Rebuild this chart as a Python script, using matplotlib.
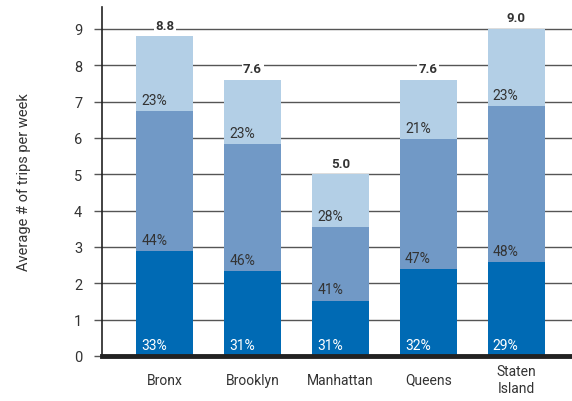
import matplotlib
matplotlib.use("Agg")
import matplotlib.pyplot as plt
import numpy as np

plt.rcParams['font.family'] = ['Roboto', 'DejaVu Sans']

boroughs = ["Bronx", "Brooklyn", "Manhattan", "Queens", "Staten\nIsland"]
totals = [8.8, 7.6, 5.0, 7.6, 9.0]
# segment heights (bottom, middle, top) in trips per week
seg_bottom = [2.88, 2.33, 1.52, 2.38, 2.58]
seg_middle = [3.85, 3.49, 2.03, 3.58, 4.29]
seg_top = [2.07, 1.78, 1.45, 1.64, 2.13]
pct_bottom = ["33%", "31%", "31%", "32%", "29%"]
pct_middle = ["44%", "46%", "41%", "47%", "48%"]
pct_top = ["23%", "23%", "28%", "21%", "23%"]

colors = ["#006ab4", "#7199c6", "#b3cfe6"]
txt = "#333333"

fig = plt.figure(figsize=(5.72, 4.02), dpi=100)
ax = fig.add_axes([0.178, 0.112, 0.822, 0.868])

x = np.arange(len(boroughs))
w = 0.65
b0 = np.zeros(len(x))
b1 = np.array(seg_bottom)
b2 = b1 + np.array(seg_middle)

ax.bar(x, seg_bottom, w, color=colors[0], zorder=2)
ax.bar(x, seg_middle, w, bottom=b1, color=colors[1], zorder=2)
ax.bar(x, seg_top, w, bottom=b2, color=colors[2], zorder=2)

for i in range(len(x)):
    lx = x[i] - w / 2 + 0.06
    ax.text(lx, b0[i] + 0.12, pct_bottom[i], color="white", fontsize=10,
            ha="left", va="bottom", zorder=3)
    ax.text(lx, b1[i] + 0.12, pct_middle[i], color=txt, fontsize=10,
            ha="left", va="bottom", zorder=3)
    ax.text(lx, b2[i] + 0.12, pct_top[i], color=txt, fontsize=10,
            ha="left", va="bottom", zorder=3)
    ax.text(x[i], totals[i] + 0.3, "%.1f" % totals[i], color=txt, fontsize=9.5,
            fontweight="bold", ha="center", va="center", zorder=1.5,
            bbox=dict(facecolor="white", edgecolor="none", pad=1.0))

ax.set_xlim(-0.716, 4.636)
ax.set_ylim(0, 9.6)
ax.set_yticks(range(0, 10))
for v in range(1, 10):
    ax.axhline(v, color="#555555", lw=1, zorder=1)

ax.set_xticks(x)
ax.set_xticklabels(boroughs, fontsize=10, color=txt, va="center", linespacing=1.25)
ax.tick_params(axis="x", length=0, pad=17)
ax.tick_params(axis="y", length=6, width=1, color="#555555", labelsize=10.5,
               labelcolor=txt, pad=8)

for s in ["top", "right"]:
    ax.spines[s].set_visible(False)
ax.spines["left"].set_color("#222222")
ax.spines["left"].set_linewidth(1.2)
ax.spines["bottom"].set_color("#222222")
ax.spines["bottom"].set_linewidth(3.5)

ax.set_ylabel("Average # of trips per week", fontsize=10.5, color=txt, labelpad=31)

fig.savefig("out.png", dpi=100)
